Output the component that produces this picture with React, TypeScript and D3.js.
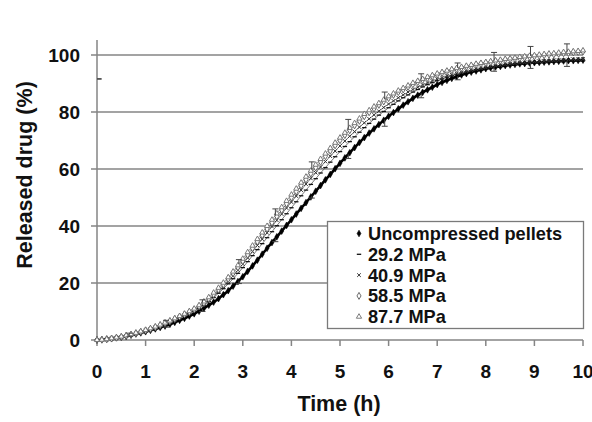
import { useEffect, useRef } from "react";
import * as d3 from "d3";

// sampling every 0.1 h
const hours = d3.range(101).map((i) => i / 10);

const uncompressed = [
  0, 0.1, 0.3, 0.5, 0.8, 1.0, 1.3, 1.7, 2.1, 2.5,
  2.9, 3.4, 3.9, 4.4, 4.9, 5.5, 6.2, 6.9, 7.6, 8.4,
  9.2, 10.1, 11.1, 12.2, 13.3, 14.5, 15.9, 17.3, 18.9, 20.5,
  22.2, 24.1, 26.0, 28.0, 30.1, 32.2, 34.2, 36.2, 38.2, 40.2,
  42.2, 44.2, 46.2, 48.2, 50.2, 52.2, 54.2, 56.2, 58.1, 60.1,
  62.0, 63.9, 65.7, 67.5, 69.3, 71.0, 72.6, 74.1, 75.6, 77.1,
  78.5, 79.8, 81.1, 82.4, 83.6, 84.8, 85.9, 86.9, 87.8, 88.7,
  89.6, 90.4, 91.1, 91.8, 92.4, 93.0, 93.5, 94.0, 94.4, 94.8,
  95.2, 95.5, 95.8, 96.0, 96.3, 96.5, 96.7, 96.9, 97.0, 97.2,
  97.3, 97.4, 97.5, 97.6, 97.7, 97.8, 97.9, 98.0, 98.0, 98.1,
  98.2,
];

const mpa292 = [
  0, 0.1, 0.2, 0.4, 0.7, 1.0, 1.4, 1.8, 2.2, 2.7,
  3.2, 3.7, 4.3, 4.9, 5.5, 6.2, 6.9, 7.7, 8.5, 9.3,
  10.1, 11.1, 12.2, 13.5, 14.9, 16.4, 18.0, 19.7, 21.5, 23.4,
  25.4, 27.5, 29.6, 31.7, 33.8, 35.9, 38.0, 40.1, 42.2, 44.3,
  46.4, 48.5, 50.6, 52.6, 54.6, 56.6, 58.6, 60.5, 62.4, 64.3,
  66.1, 67.9, 69.6, 71.3, 72.9, 74.5, 76.0, 77.5, 78.9, 80.2,
  81.5, 82.7, 83.9, 85.0, 86.0, 87.0, 87.9, 88.8, 89.6, 90.3,
  91.0, 91.6, 92.2, 92.7, 93.2, 93.6, 94.0, 94.4, 94.8, 95.1,
  95.4, 95.7, 96.0, 96.2, 96.4, 96.6, 96.8, 97.0, 97.1, 97.2,
  97.3, 97.4, 97.5, 97.6, 97.7, 97.8, 97.8, 97.9, 97.9, 98.0,
  98.0,
];

const mpa409 = [
  0, 0.1, 0.2, 0.5, 0.8, 1.1, 1.4, 1.8, 2.3, 2.8,
  3.3, 3.8, 4.4, 5.0, 5.7, 6.4, 7.1, 7.9, 8.7, 9.5,
  10.4, 11.4, 12.6, 14.0, 15.5, 17.1, 18.8, 20.6, 22.5, 24.5,
  26.6, 28.8, 31.0, 33.2, 35.4, 37.6, 39.8, 42.0, 44.2, 46.3,
  48.4, 50.5, 52.6, 54.7, 56.7, 58.7, 60.7, 62.6, 64.5, 66.3,
  68.1, 69.8, 71.5, 73.1, 74.7, 76.2, 77.6, 79.0, 80.3, 81.6,
  82.8, 83.9, 85.0, 86.0, 87.0, 87.9, 88.7, 89.5, 90.2, 90.9,
  91.5, 92.1, 92.6, 93.1, 93.5, 93.9, 94.3, 94.7, 95.0, 95.3,
  95.6, 95.9, 96.2, 96.4, 96.7, 96.9, 97.1, 97.3, 97.4, 97.6,
  97.7, 97.8, 97.9, 98.0, 98.1, 98.2, 98.3, 98.4, 98.5, 98.5,
  98.6,
];

const mpa585 = [
  0, 0.1, 0.3, 0.5, 0.8, 1.1, 1.5, 1.9, 2.4, 2.9,
  3.4, 3.9, 4.5, 5.2, 5.9, 6.6, 7.4, 8.2, 9.0, 9.8,
  10.7, 11.8, 13.0, 14.5, 16.0, 17.7, 19.5, 21.4, 23.4, 25.5,
  27.7, 29.9, 32.2, 34.5, 36.8, 39.0, 41.2, 43.4, 45.6, 47.8,
  50.0, 52.1, 54.2, 56.3, 58.4, 60.5, 62.5, 64.5, 66.4, 68.3,
  70.1, 71.9, 73.6, 75.3, 76.9, 78.5, 79.9, 81.2, 82.5, 83.7,
  84.9, 86.0, 87.0, 87.9, 88.8, 89.7, 90.5, 91.2, 91.9, 92.5,
  93.1, 93.7, 94.2, 94.7, 95.1, 95.5, 95.9, 96.2, 96.6, 96.9,
  97.2, 97.5, 97.8, 98.0, 98.3, 98.5, 98.7, 98.9, 99.1, 99.3,
  99.5, 99.7, 99.9, 100.1, 100.2, 100.4, 100.6, 100.7, 100.9, 101.0,
  101.2,
];

const mpa877 = [
  0, 0.1, 0.3, 0.6, 0.9, 1.2, 1.6, 2.0, 2.5, 3.0,
  3.5, 4.1, 4.7, 5.4, 6.1, 6.8, 7.6, 8.4, 9.2, 10.1,
  11.0, 12.2, 13.5, 15.0, 16.6, 18.3, 20.1, 22.0, 24.0, 26.2,
  28.5, 30.8, 33.1, 35.4, 37.7, 40.0, 42.2, 44.4, 46.6, 48.8,
  51.0, 53.1, 55.2, 57.3, 59.4, 61.5, 63.5, 65.4, 67.3, 69.2,
  71.0, 72.7, 74.4, 76.1, 77.7, 79.3, 80.6, 81.9, 83.1, 84.3,
  85.5, 86.5, 87.5, 88.4, 89.3, 90.2, 90.9, 91.6, 92.3, 92.9,
  93.5, 94.0, 94.5, 95.0, 95.4, 95.8, 96.2, 96.5, 96.9, 97.2,
  97.5, 97.8, 98.1, 98.3, 98.6, 98.8, 99.0, 99.3, 99.5, 99.7,
  99.9, 100.1, 100.3, 100.5, 100.6, 100.8, 101.0, 101.1, 101.3, 101.4,
  101.6,
];

// error bars (SD) at the sampled times
const errHours = [0.67, 1.42, 2.17, 2.92, 3.67, 4.42, 5.17, 5.92, 6.67, 7.42, 8.17, 8.92, 9.67];
const errUpperMean = [1.9, 6.2, 13.1, 26.7, 43.7, 59.8, 73.9, 84.5, 91.4, 95.5, 98.0, 99.7, 101.1];
const errUpperSd = [0.5, 0.7, 1.0, 1.5, 2.3, 2.7, 3.5, 2.5, 2.0, 1.7, 2.9, 3.3, 2.8];
const errLowerMean = [1.6, 5.0, 10.8, 20.8, 35.6, 50.6, 65.2, 77.4, 86.6, 92.5, 95.7, 97.2, 98.0];
const errLowerSd = [0.3, 0.5, 0.8, 1.0, 1.1, 0.8, 1.5, 2.4, 1.6, 1.2, 1.4, 1.9, 2.0];

// stray marker near the y axis
const strayHours = [0.05];
const strayValues = [91.6];

const seriesNames = ["Uncompressed pellets", "29.2 MPa", "40.9 MPa", "58.5 MPa", "87.7 MPa"];
const xTicks = [0, 1, 2, 3, 4, 5, 6, 7, 8, 9, 10];
const yTicks = [0, 20, 40, 60, 80, 100];

const dashPath = "M-2.2,0H2.2";
const markerStyles = [
  { path: d3.symbol(d3.symbolDiamond, 13)(), fill: "#000", stroke: "#000", sw: 0.6, line: "#000", lw: 2.6 },
  { path: dashPath, fill: "none", stroke: "#111", sw: 1.3, line: "#555", lw: 0.8 },
  { path: d3.symbol(d3.symbolTimes, 10)(), fill: "none", stroke: "#333", sw: 1, line: "#666", lw: 0.8 },
  { path: d3.symbol(d3.symbolDiamond, 14)(), fill: "#fff", stroke: "#5a5a5a", sw: 0.9, line: "#777", lw: 0.8 },
  { path: d3.symbol(d3.symbolTriangle, 12)(), fill: "#fff", stroke: "#6e6e6e", sw: 0.9, line: "#888", lw: 0.8 },
];

export default function App() {
  const ref = useRef(null);

  useEffect(() => {
    document.body.style.margin = "0";
    const svg = d3.select(ref.current);
    svg.selectAll("*").remove();

    const x = d3.scaleLinear().domain([0, 10]).range([97, 583]);
    const y = d3.scaleLinear().domain([0, 100]).range([340, 55]);
    const font = "'Liberation Sans', Arial, sans-serif";
    const grey = "#858585";

    // gridlines
    svg.append("g")
      .selectAll("line")
      .data(yTicks.filter((d) => d > 0))
      .enter()
      .append("line")
      .attr("x1", x(0))
      .attr("x2", x(10))
      .attr("y1", (d) => y(d))
      .attr("y2", (d) => y(d))
      .attr("stroke", grey)
      .attr("stroke-width", 1.5);

    // axes
    svg.append("line")
      .attr("x1", x(0)).attr("x2", x(0))
      .attr("y1", y(0)).attr("y2", y(105.3))
      .attr("stroke", grey).attr("stroke-width", 1.5);
    svg.append("line")
      .attr("x1", x(0)).attr("x2", x(10))
      .attr("y1", y(0)).attr("y2", y(0))
      .attr("stroke", grey).attr("stroke-width", 1.5);

    svg.append("g")
      .selectAll("line")
      .data(yTicks)
      .enter()
      .append("line")
      .attr("x1", x(0) - 6).attr("x2", x(0))
      .attr("y1", (d) => y(d)).attr("y2", (d) => y(d))
      .attr("stroke", grey).attr("stroke-width", 1.5);

    svg.append("g")
      .selectAll("line")
      .data(xTicks)
      .enter()
      .append("line")
      .attr("x1", (d) => x(d)).attr("x2", (d) => x(d))
      .attr("y1", y(0)).attr("y2", y(0) + 6)
      .attr("stroke", grey).attr("stroke-width", 1.5);

    svg.append("g")
      .selectAll("text")
      .data(yTicks)
      .enter()
      .append("text")
      .attr("x", 80)
      .attr("y", (d) => y(d) + 7)
      .attr("text-anchor", "end")
      .attr("font-family", font)
      .attr("font-weight", "bold")
      .attr("font-size", 19)
      .attr("fill", "#111")
      .text((d) => d);

    svg.append("g")
      .selectAll("text")
      .data(xTicks)
      .enter()
      .append("text")
      .attr("x", (d) => x(d))
      .attr("y", 378)
      .attr("text-anchor", "middle")
      .attr("font-family", font)
      .attr("font-weight", "bold")
      .attr("font-size", 19)
      .attr("fill", "#111")
      .text((d) => d);

    svg.append("text")
      .attr("x", 339)
      .attr("y", 411)
      .attr("text-anchor", "middle")
      .attr("font-family", font)
      .attr("font-weight", "bold")
      .attr("font-size", 21.5)
      .attr("fill", "#111")
      .text("Time (h)");

    svg.append("text")
      .attr("transform", "translate(32,175) rotate(-90)")
      .attr("text-anchor", "middle")
      .attr("font-family", font)
      .attr("font-weight", "bold")
      .attr("font-size", 21.5)
      .attr("fill", "#111")
      .text("Released drug (%)");

    // markers, with a faint trace under each series so dense points read as a band
    const allSeries = [uncompressed, mpa292, mpa409, mpa585, mpa877];
    const line = d3.line().x((d, i) => x(hours[i])).y((d) => y(d)).curve(d3.curveMonotoneX);
    allSeries.forEach((values, si) => {
      const st = markerStyles[si];
      svg.append("path")
        .attr("d", line(values))
        .attr("fill", "none")
        .attr("stroke", st.line)
        .attr("stroke-width", st.lw);
    });
    allSeries.forEach((values, si) => {
      const st = markerStyles[si];
      svg.append("g")
        .selectAll("path")
        .data(values)
        .enter()
        .append("path")
        .attr("d", st.path)
        .attr("transform", (d, i) => `translate(${x(hours[i])},${y(d)})`)
        .attr("fill", st.fill)
        .attr("stroke", st.stroke)
        .attr("stroke-width", st.sw);
    });

    svg.append("g")
      .selectAll("path")
      .data(strayValues)
      .enter()
      .append("path")
      .attr("d", dashPath)
      .attr("transform", (d, i) => `translate(${x(strayHours[i])},${y(d)})`)
      .attr("stroke", "#111")
      .attr("stroke-width", 1.3);

    // error bars: plus side on upper curve, minus side on lower curve
    const drawErr = (means, sds, sign) => {
      const g = svg.append("g").attr("stroke", "#444").attr("stroke-width", 1);
      means.forEach((m, i) => {
        const cx = x(errHours[i]);
        const end = y(m + sign * sds[i]);
        g.append("line").attr("x1", cx).attr("x2", cx).attr("y1", y(m)).attr("y2", end);
        g.append("line").attr("x1", cx - 3).attr("x2", cx + 3).attr("y1", end).attr("y2", end);
      });
    };
    drawErr(errUpperMean, errUpperSd, 1);
    drawErr(errLowerMean, errLowerSd, -1);

    // legend
    const lg = svg.append("g");
    lg.append("rect")
      .attr("x", 327.5).attr("y", 221.5)
      .attr("width", 256).attr("height", 107)
      .attr("fill", "#fff")
      .attr("stroke", "#7a7a7a")
      .attr("stroke-width", 1.3);
    seriesNames.forEach((name, i) => {
      const cy = 233.5 + i * 20.8;
      const st = markerStyles[i];
      lg.append("path")
        .attr("d", st.path)
        .attr("transform", `translate(359,${cy})`)
        .attr("fill", st.fill)
        .attr("stroke", st.stroke)
        .attr("stroke-width", st.sw);
      lg.append("text")
        .attr("x", 368)
        .attr("y", cy + 6.4)
        .attr("font-family", font)
        .attr("font-weight", "bold")
        .attr("font-size", 18.2)
        .attr("fill", "#111")
        .text(name);
    });
  }, []);

  return <svg ref={ref} width={592} height={422} style={{ display: "block", background: "#fff" }} />;
}
